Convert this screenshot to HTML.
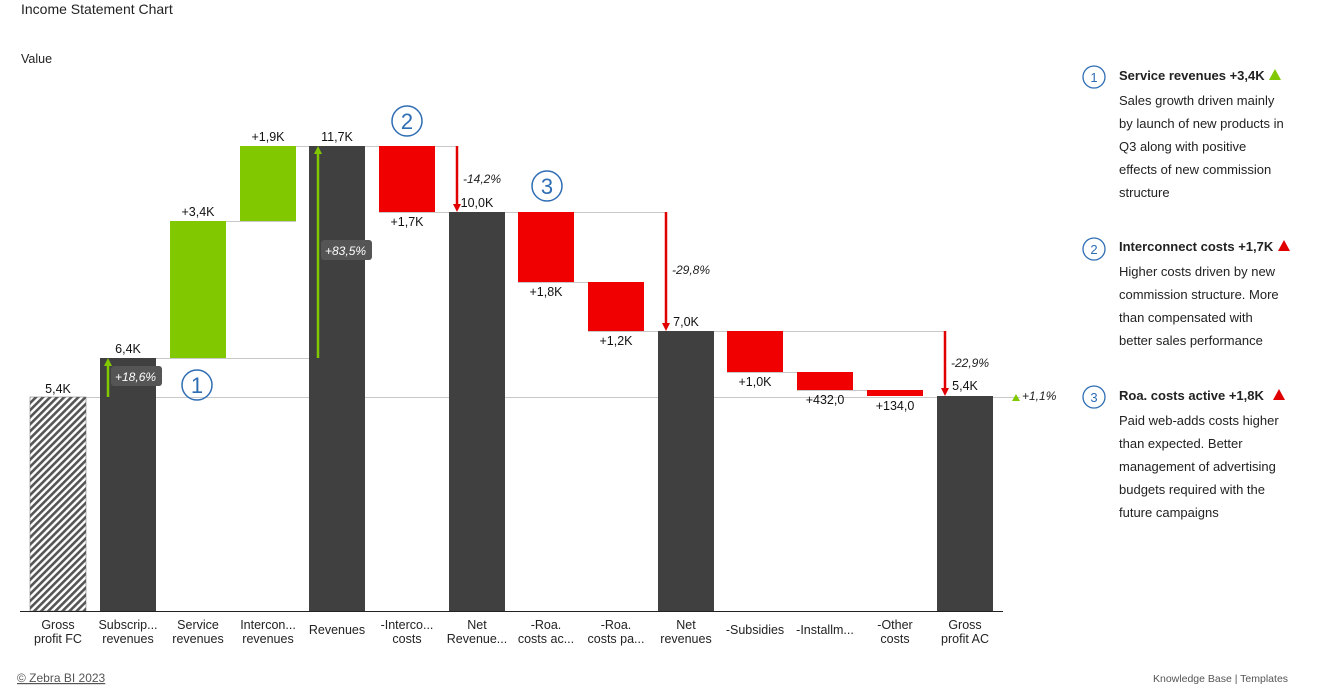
<!DOCTYPE html>
<html><head><meta charset="utf-8"><style>
body{margin:0;width:1327px;height:687px;background:#fff;overflow:hidden;font-family:"Liberation Sans","DejaVu Sans",sans-serif;}
</style></head><body>
<svg width="1327" height="687" xmlns="http://www.w3.org/2000/svg" font-family="Liberation Sans, DejaVu Sans, sans-serif">
<defs>
<pattern id="h" width="5" height="5" patternUnits="userSpaceOnUse" patternTransform="rotate(45)">
<rect width="5" height="5" fill="#fff"/><rect width="2.6" height="5" fill="#555"/></pattern>
</defs>
<text x="21" y="14" font-size="14" fill="#222">Income Statement Chart</text>
<text x="21" y="63" font-size="12.5" fill="#222">Value</text>
<g stroke="#c8c8c8" stroke-width="1">
<line x1="86" y1="397.5" x2="1020" y2="397.5"/>
<line x1="100" y1="358.5" x2="320" y2="358.5"/>
<line x1="170" y1="221.5" x2="296" y2="221.5"/>
<line x1="240" y1="146.5" x2="458" y2="146.5"/>
<line x1="379" y1="212.5" x2="667" y2="212.5"/>
<line x1="518" y1="282.5" x2="644" y2="282.5"/>
<line x1="588" y1="331.5" x2="945" y2="331.5"/>
<line x1="727" y1="372.5" x2="853" y2="372.5"/>
<line x1="797" y1="390.5" x2="923" y2="390.5"/>
</g>
<rect x="30" y="397" width="56" height="214" fill="url(#h)" stroke="#666" stroke-width="0.5"/>
<g fill="#404040">
<rect x="100" y="358" width="56" height="253"/>
<rect x="309" y="146" width="56" height="465"/>
<rect x="449" y="212" width="56" height="399"/>
<rect x="658" y="331" width="56" height="280"/>
<rect x="937" y="396" width="56" height="215"/>
</g>
<g fill="#82c800">
<rect x="170" y="221" width="56" height="137"/>
<rect x="240" y="146" width="56" height="75"/>
</g>
<g fill="#f00000">
<rect x="379" y="146" width="56" height="66"/>
<rect x="518" y="212" width="56" height="70"/>
<rect x="588" y="282" width="56" height="49"/>
<rect x="727" y="331" width="56" height="41"/>
<rect x="797" y="372" width="56" height="18"/>
<rect x="867" y="390" width="56" height="6"/>
</g>
<line x1="20" y1="611.5" x2="1003" y2="611.5" stroke="#222" stroke-width="1"/>
<!-- arrows -->
<g stroke="#82c800" stroke-width="2.5" fill="#82c800">
<line x1="108" y1="397" x2="108" y2="364"/><polygon points="104,366 112,366 108,358" stroke="none"/>
<line x1="318" y1="358" x2="318" y2="152"/><polygon points="314,154 322,154 318,146" stroke="none"/>
</g>
<g stroke="#e00000" stroke-width="2.5" fill="#e00000">
<line x1="457" y1="146" x2="457" y2="205"/><polygon points="453,204 461,204 457,212" stroke="none"/>
<line x1="666" y1="212" x2="666" y2="324"/><polygon points="662,323 670,323 666,331" stroke="none"/>
<line x1="945" y1="331" x2="945" y2="389"/><polygon points="941,388 949,388 945,396" stroke="none"/>
</g>
<polygon points="1012,401 1020,401 1016,394" fill="#82c800"/>
<rect x="111" y="366" width="51" height="20" rx="3" fill="#555"/>
<text x="115" y="381" font-size="12" font-style="italic" fill="#fff">+18,6%</text>
<rect x="321" y="240" width="51" height="20" rx="3" fill="#555"/>
<text x="325" y="255" font-size="12" font-style="italic" fill="#fff">+83,5%</text>
<g font-size="12" font-style="italic" fill="#222">
<text x="463" y="183">-14,2%</text>
<text x="672" y="274">-29,8%</text>
<text x="951" y="367">-22,9%</text>
<text x="1022" y="400">+1,1%</text>
</g>
<g font-size="12.5" fill="#111" text-anchor="middle">
<text x="58" y="393">5,4K</text>
<text x="128" y="353">6,4K</text>
<text x="198" y="216">+3,4K</text>
<text x="268" y="141">+1,9K</text>
<text x="337" y="141">11,7K</text>
<text x="407" y="226">+1,7K</text>
<text x="477" y="207">10,0K</text>
<text x="546" y="296">+1,8K</text>
<text x="616" y="345">+1,2K</text>
<text x="686" y="326">7,0K</text>
<text x="755" y="386">+1,0K</text>
<text x="825" y="404">+432,0</text>
<text x="895" y="410">+134,0</text>
<text x="965" y="390">5,4K</text>
</g>
<g font-size="12.5" fill="#222" text-anchor="middle">
<text x="58" y="629">Gross</text><text x="58" y="643">profit FC</text>
<text x="128" y="629">Subscrip...</text><text x="128" y="643">revenues</text>
<text x="198" y="629">Service</text><text x="198" y="643">revenues</text>
<text x="268" y="629">Intercon...</text><text x="268" y="643">revenues</text>
<text x="337" y="634">Revenues</text>
<text x="407" y="629">-Interco...</text><text x="407" y="643">costs</text>
<text x="477" y="629">Net</text><text x="477" y="643">Revenue...</text>
<text x="546" y="629">-Roa.</text><text x="546" y="643">costs ac...</text>
<text x="616" y="629">-Roa.</text><text x="616" y="643">costs pa...</text>
<text x="686" y="629">Net</text><text x="686" y="643">revenues</text>
<text x="755" y="634">-Subsidies</text>
<text x="825" y="634">-Installm...</text>
<text x="895" y="629">-Other</text><text x="895" y="643">costs</text>
<text x="965" y="629">Gross</text><text x="965" y="643">profit AC</text>
</g>
<g fill="none" stroke="#2e6db4" stroke-width="1.5">
<circle cx="197" cy="385" r="15"/><circle cx="407" cy="121" r="15"/><circle cx="547" cy="186" r="15"/>
</g>
<g font-size="22" fill="#2e6db4" text-anchor="middle">
<text x="197" y="393">1</text><text x="407" y="129">2</text><text x="547" y="194">3</text>
</g>
<g fill="none" stroke="#2e6db4" stroke-width="1.3">
<circle cx="1094" cy="77" r="11"/><circle cx="1094" cy="249" r="11"/><circle cx="1094" cy="397" r="11"/>
</g>
<g font-size="13" fill="#2e6db4" text-anchor="middle">
<text x="1094" y="82">1</text><text x="1094" y="254">2</text><text x="1094" y="402">3</text>
</g>
<g font-size="13" fill="#222">
<text x="1119" y="80" font-weight="bold">Service revenues +3,4K</text>
<polygon points="1269,80 1281,80 1275,69" fill="#82c800"/>
<text x="1119" y="105">Sales growth driven mainly</text>
<text x="1119" y="128">by launch of new products in</text>
<text x="1119" y="151">Q3 along with positive</text>
<text x="1119" y="174">effects of new commission</text>
<text x="1119" y="197">structure</text>
<text x="1119" y="251" font-weight="bold">Interconnect costs +1,7K</text>
<polygon points="1278,251 1290,251 1284,240" fill="#e00000"/>
<text x="1119" y="276">Higher costs driven by new</text>
<text x="1119" y="299">commission structure. More</text>
<text x="1119" y="322">than compensated with</text>
<text x="1119" y="345">better sales performance</text>
<text x="1119" y="400" font-weight="bold">Roa. costs active +1,8K</text>
<polygon points="1273,400 1285,400 1279,389" fill="#e00000"/>
<text x="1119" y="425">Paid web-adds costs higher</text>
<text x="1119" y="448">than expected. Better</text>
<text x="1119" y="471">management of advertising</text>
<text x="1119" y="494">budgets required with the</text>
<text x="1119" y="517">future campaigns</text>
</g>
<text x="17" y="682" font-size="12" fill="#555" text-decoration="underline">© Zebra BI 2023</text>
<text x="1153" y="682" font-size="10.5" fill="#555">Knowledge Base  |  Templates</text>
</svg>
</body></html>
